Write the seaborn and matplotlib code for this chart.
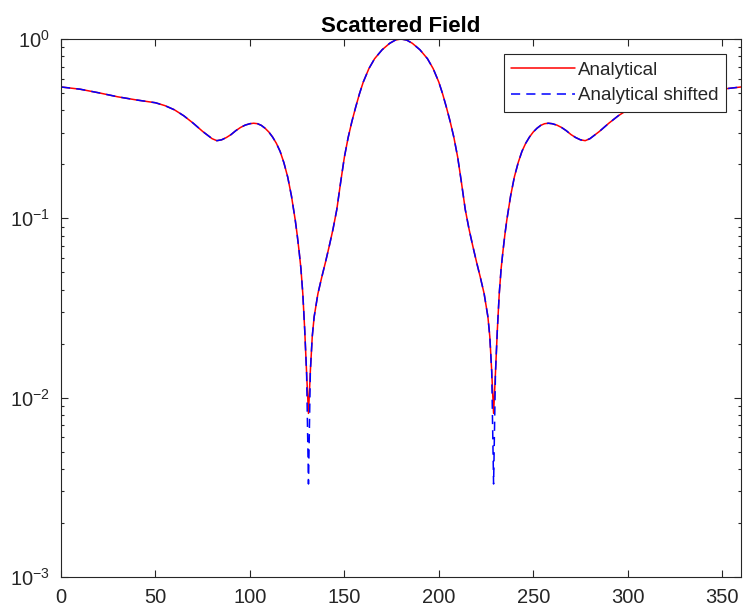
import numpy as np
import pandas as pd
import matplotlib
matplotlib.use("Agg")
import matplotlib.pyplot as plt
import seaborn as sns

# Scattering angle in degrees
angle = [
    0, 10, 20, 30, 40, 50, 55, 60, 65, 70, 75, 80, 82.5, 85, 87.5, 90, 92.5,
    95, 97.5, 100, 102, 104, 106, 108, 110, 112, 114, 116, 118, 120, 122, 124,
    125, 126, 127, 128, 129, 130, 131, 132, 133, 134, 136, 138, 140, 142, 144,
    146, 148, 150, 152, 154, 156, 158, 160, 163, 166, 170, 174, 177, 180,
    183, 186, 190, 194, 197, 200, 202, 204, 206, 208, 210, 212, 214, 216, 218,
    220, 222, 224, 226, 227, 228, 229, 230, 231, 232, 233, 234, 235, 236, 238,
    240, 242, 244, 246, 248, 250, 252, 254, 256, 258, 260, 262.5, 265, 267.5,
    270, 272.5, 275, 277.5, 280, 285, 290, 295, 300, 305, 310, 320, 330, 340,
    350, 360,
]

# Normalised scattered field magnitude
analytical = [
    0.540, 0.525, 0.501, 0.476, 0.457, 0.441, 0.425, 0.403, 0.373, 0.339,
    0.305, 0.278, 0.271, 0.274, 0.282, 0.293, 0.308, 0.321, 0.331, 0.337,
    0.339, 0.337, 0.330, 0.318, 0.303, 0.284, 0.262, 0.236, 0.204, 0.170,
    0.133, 0.0977, 0.0813, 0.0661, 0.0525, 0.0380, 0.0240, 0.0138, 0.00817,
    0.0141, 0.0219, 0.0282, 0.0380, 0.0468, 0.0569, 0.0700, 0.0871, 0.112,
    0.158, 0.219, 0.282, 0.347, 0.417, 0.495, 0.575, 0.684, 0.776, 0.871,
    0.946, 0.986, 1.0,
    0.986, 0.946, 0.871, 0.776, 0.684, 0.575, 0.495, 0.417, 0.347, 0.282,
    0.219, 0.158, 0.112, 0.0871, 0.0700, 0.0569, 0.0468, 0.0380, 0.0282,
    0.0219, 0.0141, 0.00817, 0.0138, 0.0240, 0.0380, 0.0525, 0.0661, 0.0813,
    0.0977, 0.133, 0.170, 0.204, 0.236, 0.262, 0.284, 0.303, 0.318, 0.330,
    0.337, 0.339, 0.337, 0.331, 0.321, 0.308, 0.293, 0.282, 0.274, 0.271,
    0.278, 0.305, 0.339, 0.373, 0.403, 0.425, 0.441, 0.457, 0.476, 0.501,
    0.525, 0.540,
]

# Same field evaluated on the shifted grid: deeper nulls
analytical_shifted = [
    0.540, 0.525, 0.501, 0.476, 0.457, 0.441, 0.425, 0.403, 0.373, 0.339,
    0.305, 0.278, 0.271, 0.274, 0.282, 0.293, 0.308, 0.321, 0.331, 0.337,
    0.339, 0.337, 0.330, 0.318, 0.303, 0.284, 0.262, 0.236, 0.204, 0.170,
    0.133, 0.0977, 0.0813, 0.0661, 0.0525, 0.0380, 0.0240, 0.0138, 0.0033,
    0.0141, 0.0219, 0.0282, 0.0380, 0.0468, 0.0569, 0.0700, 0.0871, 0.112,
    0.158, 0.219, 0.282, 0.347, 0.417, 0.495, 0.575, 0.684, 0.776, 0.871,
    0.946, 0.986, 1.0,
    0.986, 0.946, 0.871, 0.776, 0.684, 0.575, 0.495, 0.417, 0.347, 0.282,
    0.219, 0.158, 0.112, 0.0871, 0.0700, 0.0569, 0.0468, 0.0380, 0.0282,
    0.0219, 0.0141, 0.0033, 0.0138, 0.0240, 0.0380, 0.0525, 0.0661, 0.0813,
    0.0977, 0.133, 0.170, 0.204, 0.236, 0.262, 0.284, 0.303, 0.318, 0.330,
    0.337, 0.339, 0.337, 0.331, 0.321, 0.308, 0.293, 0.282, 0.274, 0.271,
    0.278, 0.305, 0.339, 0.373, 0.403, 0.425, 0.441, 0.457, 0.476, 0.501,
    0.525, 0.540,
]

x_ticks = [0, 50, 100, 150, 200, 250, 300, 350]

sns.set_style("ticks")
plt.rcParams["font.family"] = ["Liberation Sans", "DejaVu Sans"]
plt.rcParams["mathtext.default"] = "regular"

axis_gray = "#262626"

fig = plt.figure(figsize=(7.47, 6.14), dpi=100)
ax = fig.add_axes([0.0817, 0.0603, 0.9103, 0.8762])

df = pd.DataFrame({"angle": angle, "a": analytical, "b": analytical_shifted})

sns.lineplot(data=df, x="angle", y="a", ax=ax, color="#ff0000",
             linewidth=1.1, label="Analytical", estimator=None)
sns.lineplot(data=df, x="angle", y="b", ax=ax, color="#0000ff",
             linewidth=1.1, linestyle=(0, (6, 4)),
             label="Analytical shifted", estimator=None)

ax.set_yscale("log")
ax.set_xlim(0, 360)
ax.set_ylim(1e-3, 1e0)
ax.set_xticks(x_ticks)
ax.set_xlabel("")
ax.set_ylabel("")
ax.set_title("Scattered Field", fontsize=16, fontweight="bold",
             color="black", pad=5)

for side in ["top", "right", "left", "bottom"]:
    ax.spines[side].set_visible(True)
    ax.spines[side].set_color(axis_gray)
    ax.spines[side].set_linewidth(0.8)

ax.tick_params(which="both", direction="in", top=True, right=True,
               color=axis_gray, labelcolor=axis_gray, width=0.8)
ax.tick_params(which="major", length=5, labelsize=14.5, pad=8)
ax.tick_params(which="minor", length=2.5)
ax.tick_params(axis="x", which="minor", bottom=False, top=False)

leg = ax.legend(loc="upper right", fontsize=13.5, handlelength=3.4,
                frameon=True, fancybox=False, framealpha=1,
                edgecolor=axis_gray, borderpad=0.4, labelspacing=0.45,
                handletextpad=0.15, borderaxespad=0.8)
leg.get_frame().set_linewidth(0.8)
for t in leg.get_texts():
    t.set_color(axis_gray)

fig.savefig("out.png", dpi=100)
